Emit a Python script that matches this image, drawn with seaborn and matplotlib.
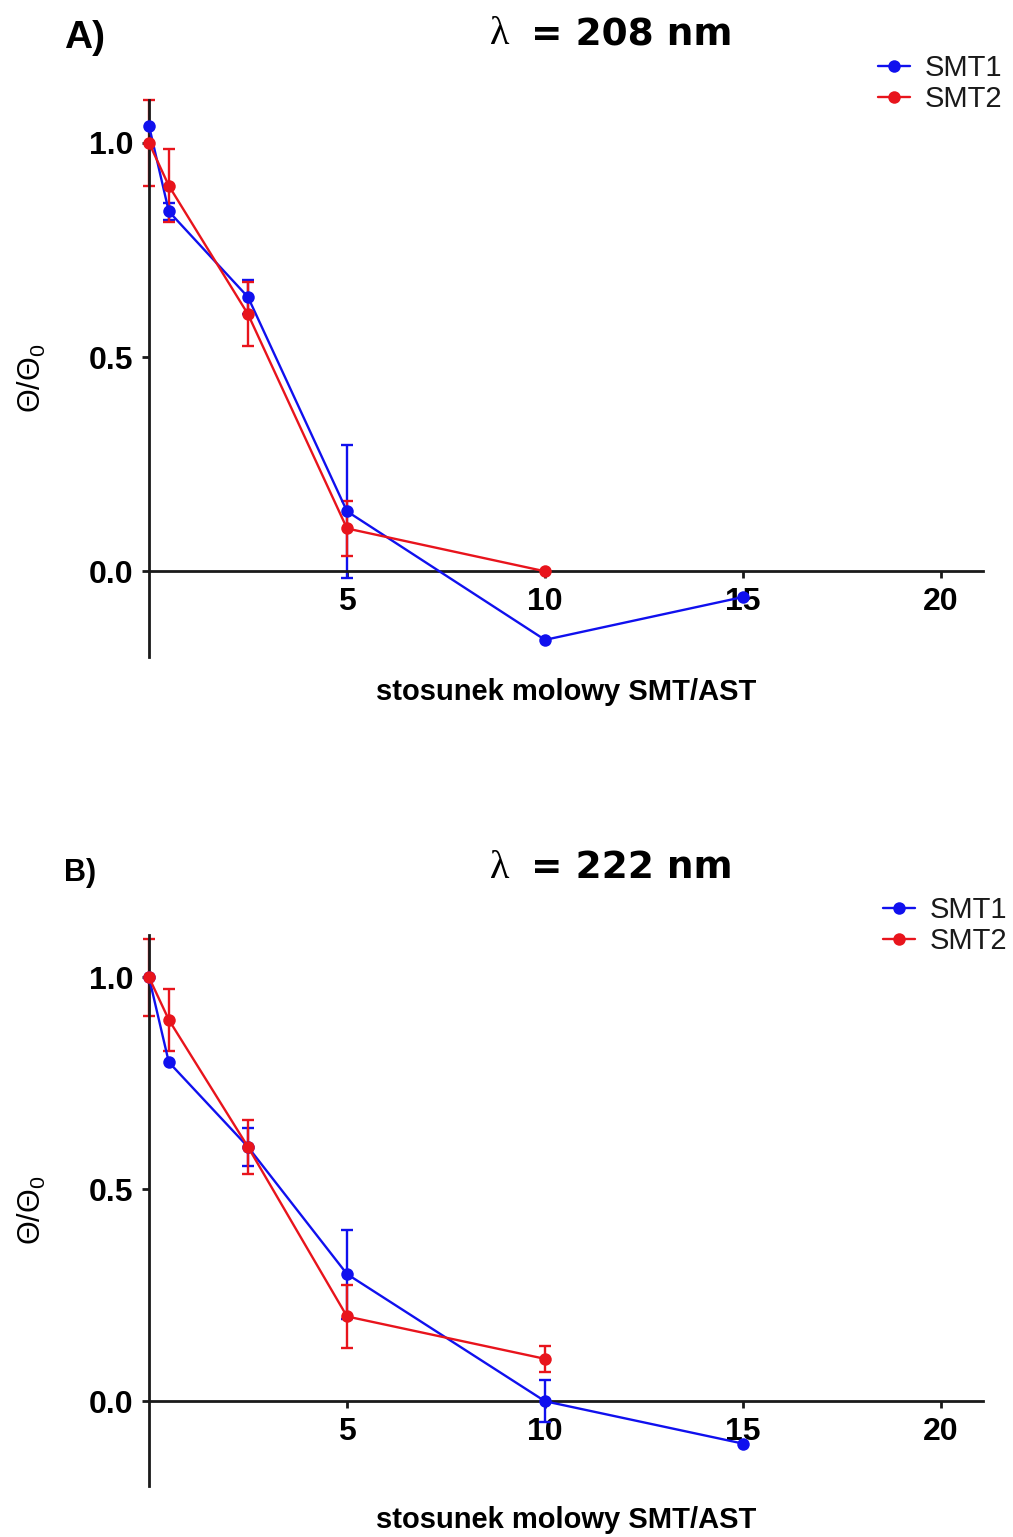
import numpy as np
import pandas as pd
import matplotlib
matplotlib.use("Agg")
import matplotlib.pyplot as plt
import seaborn as sns

# Molar ratio SMT/AST
ratio_smt1 = [0, 0.5, 2.5, 5, 10, 15]
ratio_smt2 = [0, 0.5, 2.5, 5, 10]

# lambda = 208 nm
a_smt1 = [1.04, 0.84, 0.64, 0.14, -0.16, -0.06]
a_smt1_err = [0.0, 0.02, 0.04, 0.155, 0.0, 0.0]
a_smt2 = [1.00, 0.90, 0.60, 0.10, 0.00]
a_smt2_err = [0.10, 0.085, 0.075, 0.065, 0.0]

# lambda = 222 nm
b_smt1 = [1.00, 0.80, 0.60, 0.30, 0.00, -0.10]
b_smt1_err = [0.0, 0.0, 0.045, 0.105, 0.05, 0.0]
b_smt2 = [1.00, 0.90, 0.60, 0.20, 0.10]
b_smt2_err = [0.09, 0.073, 0.063, 0.075, 0.03]

series_names = ["SMT1", "SMT2"]
colors = {"SMT1": "#1010ee", "SMT2": "#e8141c"}
x_ticks = [5, 10, 15, 20]
y_ticks = [0.0, 0.5, 1.0]
y_tick_labels = ["0.0", "0.5", "1.0"]
panel_letters = ["A)", "B)"]
wavelengths = ["208", "222"]
x_label = "stosunek molowy SMT/AST"
y_label = "\u0398/\u0398$_0$"

sns.set_style("ticks")
plt.rcParams["font.family"] = ["Liberation Sans", "DejaVu Sans"]
plt.rcParams["mathtext.fontset"] = "custom"
plt.rcParams["mathtext.rm"] = "Liberation Sans"
plt.rcParams["mathtext.it"] = "Liberation Sans"
plt.rcParams["text.color"] = "black"
plt.rcParams["axes.labelcolor"] = "black"
plt.rcParams["xtick.color"] = "black"
plt.rcParams["ytick.color"] = "black"

W, H = 1013, 1537
fig = plt.figure(figsize=(W / 100, H / 100), dpi=100)

panels = [
    dict(rect=[149 / W, 1 - 657 / H, 834 / W, 557 / H],
         smt1=a_smt1, smt1_err=a_smt1_err, smt2=a_smt2, smt2_err=a_smt2_err,
         title_y=35, letter_y=38, letter_size=28, legend_top=48, legend_right=1008),
    dict(rect=[149 / W, 1 - 1486 / H, 834 / W, 551 / H],
         smt1=b_smt1, smt1_err=b_smt1_err, smt2=b_smt2, smt2_err=b_smt2_err,
         title_y=868, letter_y=873, letter_size=22, legend_top=890, legend_right=1013),
]

for i, p in enumerate(panels):
    ax = fig.add_axes(p["rect"])
    df = pd.concat([
        pd.DataFrame({"ratio": ratio_smt1, "value": p["smt1"], "err": p["smt1_err"], "series": "SMT1"}),
        pd.DataFrame({"ratio": ratio_smt2, "value": p["smt2"], "err": p["smt2_err"], "series": "SMT2"}),
    ], ignore_index=True)

    for name in series_names:
        sub = df[(df["series"] == name) & (df["err"] > 0)]
        ax.errorbar(sub["ratio"], sub["value"], yerr=sub["err"], fmt="none",
                    ecolor=colors[name], elinewidth=1.7, capsize=4.5, capthick=1.7,
                    clip_on=False, zorder=2)

    sns.lineplot(data=df, x="ratio", y="value", hue="series", hue_order=series_names,
                 palette=colors, marker="o", markersize=9, markeredgewidth=0,
                 linewidth=1.7, sort=False, errorbar=None, ax=ax, clip_on=False, zorder=3)

    ax.set_xlim(0, 21.06)
    ax.set_ylim(-0.2, 1.1)
    ax.set_xticks(x_ticks)
    ax.set_xticklabels([str(t) for t in x_ticks])
    ax.set_yticks(y_ticks)
    ax.set_yticklabels(y_tick_labels)

    for side in ("top", "right"):
        ax.spines[side].set_visible(False)
    ax.spines["bottom"].set_position(("data", 0))
    for side in ("left", "bottom"):
        ax.spines[side].set_linewidth(2.0)
        ax.spines[side].set_color("#1a1a1a")
    ax.tick_params(axis="both", direction="out", length=5, width=2.0, color="#1a1a1a",
                   labelsize=23, pad=6, labelcolor="black")
    for lab in ax.get_xticklabels() + ax.get_yticklabels():
        lab.set_fontweight("bold")

    ax.set_xlabel(x_label, fontsize=21, fontweight="bold", va="center")
    ax.xaxis.set_label_coords(0.5, -0.062)
    ax.set_ylabel(y_label, fontsize=22, va="center")
    ax.yaxis.set_label_coords(-0.14, 0.5)

    leg = ax.legend(title=None, frameon=False, loc="upper right",
                    bbox_to_anchor=(p["legend_right"] / W, 1 - p["legend_top"] / H),
                    bbox_transform=fig.transFigure, fontsize=21, handlelength=1.1,
                    handletextpad=0.5, labelspacing=0.1, borderaxespad=0, borderpad=0.2)
    for t in leg.get_texts():
        t.set_color("#1a1a1a")

    fig.text(490 / W, 1 - p["title_y"] / H, "\u03bb", fontsize=29,
             family=["Liberation Serif", "DejaVu Serif"], ha="left", va="center")
    fig.text(531 / W, 1 - p["title_y"] / H, "= " + wavelengths[i] + " nm", fontsize=27,
             family=["DejaVu Sans"], fontweight="bold", ha="left", va="center")
    fig.text(64 / W, 1 - p["letter_y"] / H, panel_letters[i], fontsize=p["letter_size"],
             fontweight="bold", ha="left", va="center")

fig.savefig("out.png", dpi=100)
